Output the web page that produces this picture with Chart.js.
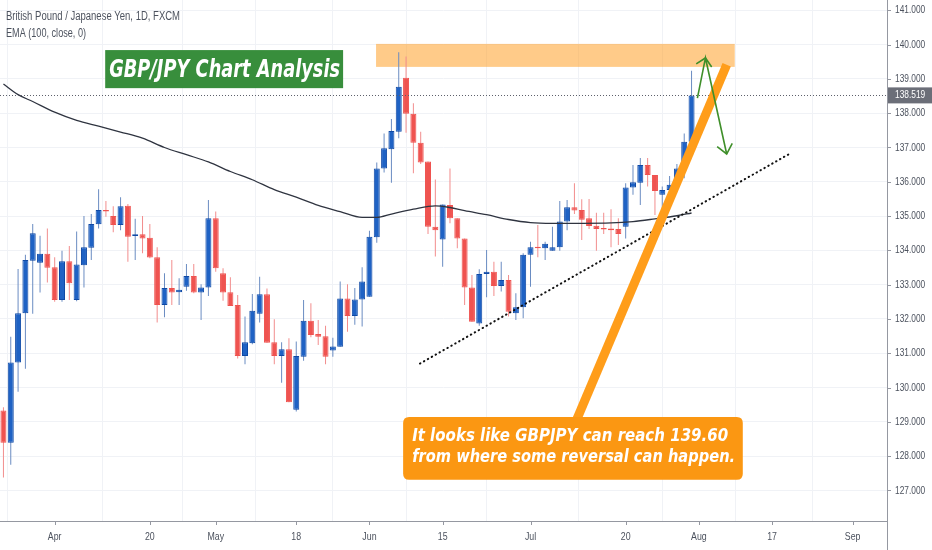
<!DOCTYPE html>
<html>
<head>
<meta charset="utf-8">
<title>GBP/JPY Chart Analysis</title>
<script src="https://cdn.jsdelivr.net/npm/chart.js@4.4.1/dist/chart.umd.min.js"></script>
<style>
  html, body { margin: 0; padding: 0; background: #fff; }
  #wrap { width: 932px; height: 550px; position: relative; }
</style>
</head>
<body>
<div id="wrap"><canvas id="chart"></canvas></div>
<script>
// daily candles, 23 Mar 2020 .. 31 Jul 2020 (index 0 = 23 Mar)
const opens = [
  129.33, 128.39, 130.73, 132.17, 133.70, 133.64, 133.90, 133.51, 132.55, 133.68,
  132.55, 133.57, 134.08, 134.76, 135.18, 135.00, 134.74, 135.30, 134.42, 134.47,
  134.37, 133.80, 132.41, 132.90, 132.78, 132.94, 133.25, 132.77, 132.92, 134.94,
  133.33, 132.78, 132.41, 130.92, 131.29, 132.15, 132.72, 131.32, 130.92, 131.12,
  129.35, 130.90, 131.95, 131.56, 131.50, 131.08, 131.19, 132.60, 132.09, 132.57,
  132.65, 134.38, 136.39, 136.95, 137.46, 139.03, 137.98, 137.14, 136.59, 134.69,
  134.32, 135.32, 134.94, 134.35, 132.92, 131.87, 133.31, 133.38, 132.96, 133.14,
  132.17, 132.34, 133.87, 134.10, 134.06, 133.99, 134.09, 134.84, 135.26, 135.18,
  134.94, 134.72, 134.64, 134.64, 134.62, 134.69, 135.83, 135.97, 136.49, 136.20,
  135.62, 135.76, 135.91, 136.39, 137.17
];
const highs = [
  129.43, 131.48, 133.46, 133.87, 134.77, 134.43, 134.64, 133.80, 133.99, 134.13,
  134.55, 135.00, 135.06, 135.78, 135.44, 135.29, 135.55, 135.35, 134.92, 135.00,
  134.77, 134.09, 133.33, 133.72, 133.19, 133.60, 133.60, 133.01, 135.47, 135.13,
  133.48, 133.22, 132.70, 132.07, 132.73, 133.23, 132.89, 131.99, 131.32, 131.44,
  131.34, 132.55, 132.46, 131.97, 131.80, 131.45, 133.09, 133.01, 132.90, 133.51,
  134.57, 136.56, 137.41, 137.83, 139.78, 139.65, 138.29, 137.46, 136.59, 136.07,
  135.34, 136.39, 134.94, 134.35, 133.28, 133.45, 134.01, 133.67, 133.67, 133.28,
  132.75, 133.92, 134.25, 134.74, 134.25, 134.69, 135.44, 135.47, 135.96, 135.49,
  135.50, 135.10, 135.10, 135.20, 134.94, 135.96, 136.49, 136.69, 136.69, 136.20,
  135.86, 136.17, 136.52, 137.41, 139.24
];
const lows = [
  127.38, 127.75, 129.88, 130.55, 132.15, 132.77, 133.06, 132.50, 132.50, 132.55,
  132.52, 132.92, 133.72, 134.64, 134.98, 134.53, 134.59, 133.67, 133.72, 133.92,
  133.77, 131.90, 132.05, 132.41, 132.41, 132.82, 132.75, 131.97, 132.67, 133.38,
  132.53, 132.38, 130.85, 130.68, 131.26, 131.90, 131.31, 130.68, 130.14, 129.57,
  129.30, 130.78, 131.47, 131.24, 130.68, 130.90, 131.19, 131.63, 131.83, 131.78,
  132.65, 134.22, 136.27, 135.97, 137.27, 137.43, 136.25, 136.52, 134.48, 133.82,
  133.52, 134.79, 134.06, 132.41, 131.92, 131.80, 132.63, 132.67, 132.80, 132.07,
  131.97, 132.02, 132.94, 133.80, 133.72, 133.99, 133.99, 134.59, 135.06, 134.30,
  134.62, 133.99, 134.48, 134.09, 134.16, 134.35, 135.62, 135.32, 135.86, 135.03,
  135.18, 135.37, 135.71, 136.10, 136.83
];
const closes = [
  128.39, 130.73, 132.17, 133.72, 134.50, 133.90, 133.49, 132.55, 133.68, 133.04,
  133.59, 134.09, 134.77, 135.18, 135.13, 134.74, 135.29, 134.40, 134.47, 134.35,
  133.79, 132.41, 132.90, 132.77, 132.85, 133.25, 132.77, 132.92, 134.94, 133.48,
  132.77, 132.38, 130.92, 131.32, 132.24, 132.72, 131.31, 130.92, 131.12, 129.57,
  130.92, 131.95, 131.53, 131.48, 130.90, 131.20, 132.60, 132.09, 132.57, 133.09,
  134.40, 136.39, 136.98, 137.48, 138.77, 137.98, 137.14, 136.56, 134.69, 134.59,
  135.34, 134.94, 134.35, 132.92, 131.92, 133.31, 133.38, 132.96, 133.14, 132.21,
  132.34, 133.87, 134.09, 134.06, 134.19, 134.09, 134.84, 135.26, 135.16, 134.89,
  134.71, 134.62, 134.61, 134.59, 134.48, 135.83, 135.99, 136.49, 136.20, 135.73,
  135.76, 135.91, 136.39, 137.17, 138.519
];

// EMA (100, close) at some candles
const emaIdx = [0, 2, 4, 7, 10, 13, 16, 19, 22, 25, 28, 31, 34, 37, 40, 43, 46, 49, 51,
  53, 56, 59, 61, 63, 66, 69, 72, 75, 79, 83, 86, 89, 92, 94];
const emaValues = [138.85, 138.54, 138.34, 138.03, 137.79, 137.62, 137.45, 137.27, 137.00,
  136.79, 136.58, 136.30, 136.06, 135.77, 135.55, 135.31, 135.13, 134.96, 134.96, 135.06,
  135.20, 135.30, 135.25, 135.16, 135.04, 134.90, 134.81, 134.79, 134.79, 134.80, 134.84,
  134.92, 135.01, 135.09];

// time axis labels (candle index -> text)
const tickIdx = [7, 20, 29, 40, 50, 60, 72, 85, 95, 105, 116];
const tickLabels = ['Apr', '20', 'May', '18', 'Jun', '15', 'Jul', '20', 'Aug', '17', 'Sep'];
const priceTicks = [127, 128, 129, 130, 131, 132, 133, 134, 135, 136, 137, 138, 139, 140, 141];
const lastPrice = 138.519;

// drawings, in [candle index, price]
const zoneFrom = [50.9, 140.02];
const zoneTo = [99.9, 139.35];
const supportFrom = [56.9, 130.70];
const supportTo = [107.5, 136.83];
const pointerFrom = [98.8, 139.41];
const pointerTo = [78.0, 128.91];
const arrowPath = [[94.8, 138.44], [95.9, 139.61], [98.8, 136.81]];
const titleFrom = [13.9, 139.84];
const titleTo = [46.4, 138.73];
const calloutFrom = [54.6, 129.14];
const calloutTo = [101.0, 127.31];

const headerLines = ['British Pound / Japanese Yen, 1D, FXCM', 'EMA (100, close, 0)'];
const titleText = 'GBP/JPY Chart Analysis';
const calloutLines = ['It looks like GBPJPY can reach 139.60', 'from where some reversal can happen.'];

const upBody = '#1f62c4', upBorder = '#0f49a5', upWick = '#6a8cc2';
const downBody = '#ef5350', downWick = '#f28d8d';
const axisColor = '#9598a1';
const labelColor = '#4c525e';

const isUp = closes.map((c, i) => c >= opens[i]);
const bodyData = opens.map((o, i) => ({ x: i, y: [o, closes[i]] }));
const wickData = lows.map((l, i) => ({ x: i, y: [l, highs[i]] }));
const emaData = emaIdx.map((x, i) => ({ x: x, y: emaValues[i] }));

function squeezeText(ctx, text, x, y, k, align) {
  ctx.save();
  ctx.translate(x, y);
  ctx.scale(k, 1);
  ctx.textAlign = align || 'left';
  ctx.fillText(text, 0, 0);
  ctx.restore();
}

function fitText(ctx, text, x, y, width) {
  const w = ctx.measureText(text).width;
  squeezeText(ctx, text, x, y, width / w, 'left');
}

function arrowHead(ctx, fx, fy, tx, ty, len, spread) {
  const a = Math.atan2(ty - fy, tx - fx);
  ctx.beginPath();
  ctx.moveTo(tx - len * Math.cos(a - spread), ty - len * Math.sin(a - spread));
  ctx.lineTo(tx, ty);
  ctx.lineTo(tx - len * Math.cos(a + spread), ty - len * Math.sin(a + spread));
  ctx.stroke();
}

function roundRect(ctx, x, y, w, h, r) {
  ctx.beginPath();
  ctx.moveTo(x + r, y);
  ctx.lineTo(x + w - r, y);
  ctx.quadraticCurveTo(x + w, y, x + w, y + r);
  ctx.lineTo(x + w, y + h - r);
  ctx.quadraticCurveTo(x + w, y + h, x + w - r, y + h);
  ctx.lineTo(x + r, y + h);
  ctx.quadraticCurveTo(x, y + h, x, y + h - r);
  ctx.lineTo(x, y + r);
  ctx.quadraticCurveTo(x, y, x + r, y);
  ctx.closePath();
}

const overlay = {
  id: 'overlay',
  beforeDatasetsDraw(chart) {
    const ctx = chart.ctx;
    const xs = chart.scales.x, ys = chart.scales.y;
    const x1 = xs.getPixelForValue(zoneFrom[0]), y1 = ys.getPixelForValue(zoneFrom[1]);
    const x2 = xs.getPixelForValue(zoneTo[0]), y2 = ys.getPixelForValue(zoneTo[1]);
    ctx.save();
    ctx.fillStyle = 'rgba(255, 160, 40, 0.55)';
    ctx.fillRect(x1, y1, x2 - x1, y2 - y1);
    ctx.restore();
  },
  afterDatasetsDraw(chart) {
    const ctx = chart.ctx;
    const area = chart.chartArea;
    const xs = chart.scales.x, ys = chart.scales.y;
    const X = v => xs.getPixelForValue(v);
    const Y = v => ys.getPixelForValue(v);

    ctx.save();
    // last price line
    ctx.strokeStyle = '#5d606b';
    ctx.lineWidth = 1;
    ctx.setLineDash([1, 2]);
    ctx.beginPath();
    ctx.moveTo(area.left, Math.round(Y(lastPrice)) + 0.5);
    ctx.lineTo(area.right, Math.round(Y(lastPrice)) + 0.5);
    ctx.stroke();

    // rising support, dotted
    ctx.strokeStyle = '#111';
    ctx.lineWidth = 2;
    ctx.lineCap = 'round';
    ctx.setLineDash([0.5, 4]);
    ctx.beginPath();
    ctx.moveTo(X(supportFrom[0]), Y(supportFrom[1]));
    ctx.lineTo(X(supportTo[0]), Y(supportTo[1]));
    ctx.stroke();
    ctx.setLineDash([]);

    // callout pointer
    ctx.lineCap = 'butt';
    ctx.strokeStyle = '#ff9d1a';
    ctx.lineWidth = 9;
    ctx.beginPath();
    ctx.moveTo(X(pointerFrom[0]), Y(pointerFrom[1]));
    ctx.lineTo(X(pointerTo[0]), Y(pointerTo[1]));
    ctx.stroke();

    // callout box
    const bx = X(calloutFrom[0]), by = Y(calloutFrom[1]);
    const bw = X(calloutTo[0]) - bx, bh = Y(calloutTo[1]) - by;
    ctx.fillStyle = '#fb9712';
    roundRect(ctx, bx, by, bw, bh, 6);
    ctx.fill();
    ctx.fillStyle = '#fff';
    ctx.textBaseline = 'middle';
    ctx.font = 'italic bold 18px "DejaVu Sans"';
    fitText(ctx, calloutLines[0], bx + 9, by + bh * 0.31, 316);
    fitText(ctx, calloutLines[1], bx + 9, by + bh * 0.64, 323);

    // green up / down arrows
    const pts = arrowPath.map(p => [X(p[0]), Y(p[1])]);
    ctx.strokeStyle = '#3f8f2a';
    ctx.lineWidth = 1.6;
    ctx.lineJoin = 'miter';
    ctx.beginPath();
    ctx.moveTo(pts[0][0], pts[0][1]);
    ctx.lineTo(pts[1][0], pts[1][1]);
    ctx.lineTo(pts[2][0], pts[2][1]);
    ctx.stroke();
    arrowHead(ctx, pts[0][0], pts[0][1], pts[1][0], pts[1][1], 11, 0.8);
    arrowHead(ctx, pts[1][0], pts[1][1], pts[2][0], pts[2][1], 12, 0.7);

    // title box
    const tx = X(titleFrom[0]), ty = Y(titleFrom[1]);
    const tw = X(titleTo[0]) - tx, th = Y(titleTo[1]) - ty;
    ctx.fillStyle = '#388e3c';
    ctx.fillRect(tx, ty, tw, th);
    ctx.fillStyle = '#fff';
    ctx.font = 'italic bold 25px "DejaVu Sans"';
    fitText(ctx, titleText, tx + 4, ty + th / 2 + 1, tw - 7);
    ctx.restore();
  },
  afterDraw(chart) {
    const ctx = chart.ctx;
    const area = chart.chartArea;
    const xs = chart.scales.x, ys = chart.scales.y;
    ctx.save();
    ctx.strokeStyle = axisColor;
    ctx.lineWidth = 1;
    ctx.beginPath();
    ctx.moveTo(area.left, area.bottom + 0.5);
    ctx.lineTo(area.right + 1, area.bottom + 0.5);
    ctx.moveTo(area.right + 0.5, 0);
    ctx.lineTo(area.right + 0.5, chart.height);
    tickIdx.forEach(v => {
      const x = Math.round(xs.getPixelForValue(v)) + 0.5;
      ctx.moveTo(x, area.bottom);
      ctx.lineTo(x, area.bottom + 4);
    });
    priceTicks.forEach(v => {
      const y = Math.round(ys.getPixelForValue(v)) + 0.5;
      ctx.moveTo(area.right, y);
      ctx.lineTo(area.right + 4, y);
    });
    ctx.stroke();

    ctx.fillStyle = labelColor;
    ctx.textBaseline = 'middle';
    ctx.font = '11px "Liberation Sans"';
    tickIdx.forEach((v, i) => {
      squeezeText(ctx, tickLabels[i], xs.getPixelForValue(v), area.bottom + 16, 0.8, 'center');
    });
    priceTicks.forEach(v => {
      squeezeText(ctx, v.toFixed(3), area.right + 8, ys.getPixelForValue(v), 0.76, 'left');
    });

    // last price tag
    const ly = ys.getPixelForValue(lastPrice);
    ctx.fillStyle = '#6b6e78';
    ctx.fillRect(area.right + 1, ly - 8, chart.width - area.right - 1, 16);
    ctx.fillStyle = '#fff';
    squeezeText(ctx, lastPrice.toFixed(3), area.right + 8, ly, 0.76, 'left');

    // header
    ctx.fillStyle = labelColor;
    ctx.font = '12px "Liberation Sans"';
    fitText(ctx, headerLines[0], 6, 17, 174);
    fitText(ctx, headerLines[1], 6, 34, 80);
    ctx.restore();
  }
};

const canvas = document.getElementById('chart');

new Chart(canvas, {
  type: 'bar',
  data: {
    datasets: [
      {
        type: 'line',
        data: emaData,
        borderColor: '#2f3440',
        borderWidth: 1.3,
        pointRadius: 0,
        cubicInterpolationMode: 'monotone',
        order: 0
      },
      {
        data: bodyData,
        backgroundColor: isUp.map(u => u ? upBody : downBody),
        borderColor: isUp.map(u => u ? upBorder : downBody),
        borderWidth: 1,
        borderSkipped: false,
        barThickness: 6,
        minBarLength: 1.5,
        inflateAmount: 0,
        grouped: false,
        order: 1
      },
      {
        data: wickData,
        backgroundColor: isUp.map(u => u ? upWick : downWick),
        borderWidth: 0,
        barThickness: 1,
        inflateAmount: 0,
        grouped: false,
        order: 2
      }
    ]
  },
  options: {
    responsive: true,
    maintainAspectRatio: false,
    animation: false,
    layout: { padding: 0 },
    plugins: {
      legend: { display: false },
      tooltip: { enabled: false }
    },
    scales: {
      x: {
        type: 'linear',
        min: -0.47,
        max: 120.7,
        offset: false,
        afterBuildTicks: s => { s.ticks = tickIdx.map(v => ({ value: v })); },
        afterFit: s => { s.height = 29; },
        ticks: { display: false },
        grid: { color: '#f0f2f6', drawTicks: false },
        border: { display: false }
      },
      y: {
        position: 'right',
        min: 126.11,
        max: 141.30,
        afterBuildTicks: s => { s.ticks = priceTicks.map(v => ({ value: v })); },
        afterFit: s => { s.width = 45; },
        ticks: { display: false },
        grid: { color: '#f0f2f6', drawTicks: false },
        border: { display: false }
      }
    }
  },
  plugins: [overlay]
});
</script>
</body>
</html>
